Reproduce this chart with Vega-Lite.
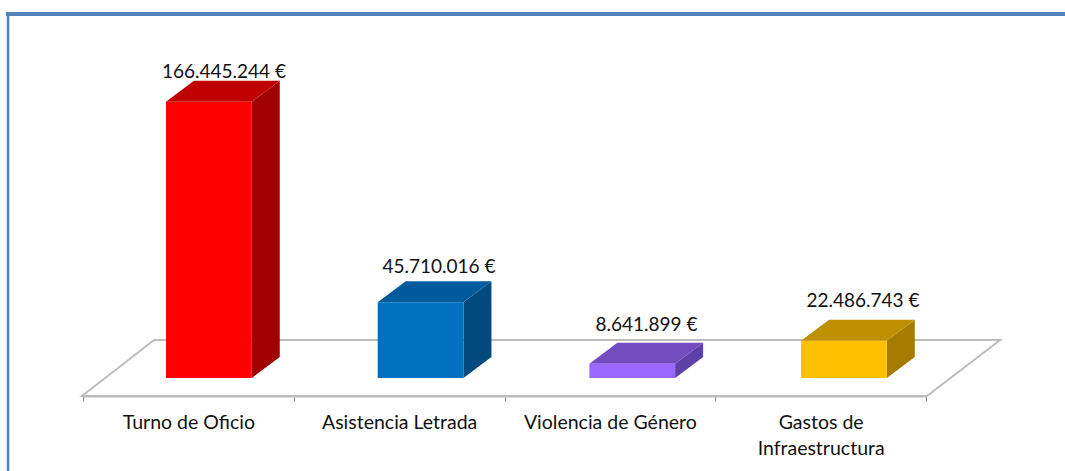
{
 "$schema":"https://vega.github.io/schema/vega-lite/v6.json",
 "width":1065,"height":396,
 "autosize":{"type":"none"},
 "padding":{"left":0,"top":0,"right":0,"bottom":75},
 "background":"white",
 "view":{"stroke":null},
 "config":{"font":"Lato"},
 "datasets":{"gasto":[
  {"concepto":"Turno de Oficio","orden":0,"euros":166445244,"etiqueta":"166.445.244 €"},
  {"concepto":"Asistencia Letrada","orden":1,"euros":45710016,"etiqueta":"45.710.016 €"},
  {"concepto":"Violencia de Género","orden":2,"euros":8641899,"etiqueta":"8.641.899 €"},
  {"concepto":"Gastos de Infraestructura","orden":3,"euros":22486743,"etiqueta":"22.486.743 €"}
 ]},
 "data":{"name":"gasto"},
 "resolve":{"scale":{"x":"independent","color":"independent"},"axis":{"x":"independent"}},
 "layer":[
  {"data":{"values":[{"t":0},{"t":1}]},
   "transform":[{"calculate":"-10840000+33740000*datum.t","as":"yy"},{"calculate":"0.341*datum.t","as":"xa"},{"calculate":"4+0.346*datum.t","as":"xb"}],
   "mark":{"type":"area","orient":"horizontal","fill":"white","stroke":"#BDBDBD","strokeWidth":2,"clip":false},
   "encoding":{
    "y":{"field":"yy","type":"quantitative","axis":null,"scale":{"domain":[-10840000,219290000],"range":[396,14],"nice":false,"zero":false}},
    "x":{"field":"xa","type":"quantitative","axis":null,"scale":{"domain":[0,4],"range":[82,927],"nice":false,"zero":false}},
    "x2":{"field":"xb"}}},
  {"data":{"values":[{}]},
   "mark":{"type":"rule","color":"#4F81BD","strokeWidth":4},
   "encoding":{
    "y":{"datum":219290000,"type":"quantitative","axis":null},
    "x":{"datum":-0.36,"type":"quantitative","axis":null,"scale":{"domain":[0,4],"range":[82,927],"nice":false,"zero":false}},
    "x2":{"datum":4.66}}},
  {"data":{"values":[{}]},
   "mark":{"type":"rule","color":"#4F81BD","strokeWidth":2.5},
   "encoding":{
    "x":{"datum":-0.35,"type":"quantitative","axis":null,"scale":{"domain":[0,4],"range":[82,927],"nice":false,"zero":false}},
    "y":{"datum":219290000,"type":"quantitative","axis":null},
    "y2":{"datum":-56000000}}},
  {"mark":{"type":"bar","opacity":0},
   "encoding":{
    "x":{"field":"concepto","type":"nominal","sort":null,"title":null,
     "scale":{"range":[83,926],"paddingInner":0,"paddingOuter":0},
     "axis":{"zindex":1,"labelAngle":0,"tickBand":"extent","domainColor":"#BDBDBD","domainWidth":2,"tickColor":"#8C8C8C","tickSize":5,"tickWidth":1,"labelFont":"Lato","labelFontSize":19.5,"labelColor":"#111111","labelPadding":12,"labelLineHeight":26,"labelLimit":0,"labelExpr":"datum.label=='Gastos de Infraestructura'?['Gastos de','Infraestructura']:datum.label"}},
    "y":{"field":"euros","type":"quantitative","axis":null},
    "y2":{"datum":0}}},
  {"transform":[{"calculate":"[0,1]","as":"t"},{"flatten":["t"]},
    {"calculate":"datum.orden*1.0021+0.8036+0.1325*datum.t","as":"xs"},
    {"calculate":"datum.euros+12650000*datum.t","as":"ya"},
    {"calculate":"12650000*datum.t","as":"yb"}],
   "mark":{"type":"area","orient":"vertical"},
   "encoding":{
    "x":{"field":"xs","type":"quantitative","axis":null,"scale":{"domain":[0,4],"range":[82,927],"nice":false,"zero":false}},
    "y":{"field":"ya","type":"quantitative","axis":null},
    "y2":{"field":"yb"},
    "color":{"field":"concepto","type":"nominal","legend":null,"scale":{"domain":["Turno de Oficio","Asistencia Letrada","Violencia de Género","Gastos de Infraestructura"],"range":["#A00000","#004A7D","#5F3FA8","#A67C00"]}}}},
  {"transform":[{"calculate":"[0,1]","as":"t"},{"flatten":["t"]},
    {"calculate":"datum.orden*1.0021+0.3976+0.1325*datum.t","as":"xa"},
    {"calculate":"datum.orden*1.0021+0.8036+0.1325*datum.t","as":"xb"},
    {"calculate":"datum.euros+12650000*datum.t","as":"ya"}],
   "mark":{"type":"area","orient":"horizontal"},
   "encoding":{
    "y":{"field":"ya","type":"quantitative","axis":null},
    "x":{"field":"xa","type":"quantitative","axis":null,"scale":{"domain":[0,4],"range":[82,927],"nice":false,"zero":false}},
    "x2":{"field":"xb"},
    "color":{"field":"concepto","type":"nominal","legend":null,"scale":{"domain":["Turno de Oficio","Asistencia Letrada","Violencia de Género","Gastos de Infraestructura"],"range":["#C00000","#005A9C","#734CBF","#BF9000"]}}}},
  {"transform":[
    {"calculate":"datum.orden*1.0021+0.3976","as":"xa"},
    {"calculate":"datum.orden*1.0021+0.8036","as":"xb"}],
   "mark":{"type":"bar"},
   "encoding":{
    "x":{"field":"xa","type":"quantitative","axis":null,"scale":{"domain":[0,4],"range":[82,927],"nice":false,"zero":false}},
    "x2":{"field":"xb"},
    "y":{"field":"euros","type":"quantitative","axis":null},
    "y2":{"datum":0},
    "color":{"field":"concepto","type":"nominal","legend":null,"scale":{"domain":["Turno de Oficio","Asistencia Letrada","Violencia de Género","Gastos de Infraestructura"],"range":["#FF0000","#0070C0","#9966FF","#FFC000"]}}}},
  {"transform":[
    {"calculate":"datum.orden+{'Turno de Oficio':0.672,'Asistencia Letrada':0.69,'Violencia de Género':0.672,'Gastos de Infraestructura':0.697}[datum.concepto]","as":"xt"},
    {"calculate":"datum.euros+{'Turno de Oficio':17900000,'Asistencia Letrada':21200000,'Violencia de Género':23300000,'Gastos de Infraestructura':23900000}[datum.concepto]","as":"yt"}],
   "mark":{"type":"text","font":"Lato","fontSize":19,"color":"#111111","align":"center","baseline":"middle"},
   "encoding":{
    "x":{"field":"xt","type":"quantitative","axis":null,"scale":{"domain":[0,4],"range":[82,927],"nice":false,"zero":false}},
    "y":{"field":"yt","type":"quantitative","axis":null},
    "text":{"field":"etiqueta"}}}
 ]
}
